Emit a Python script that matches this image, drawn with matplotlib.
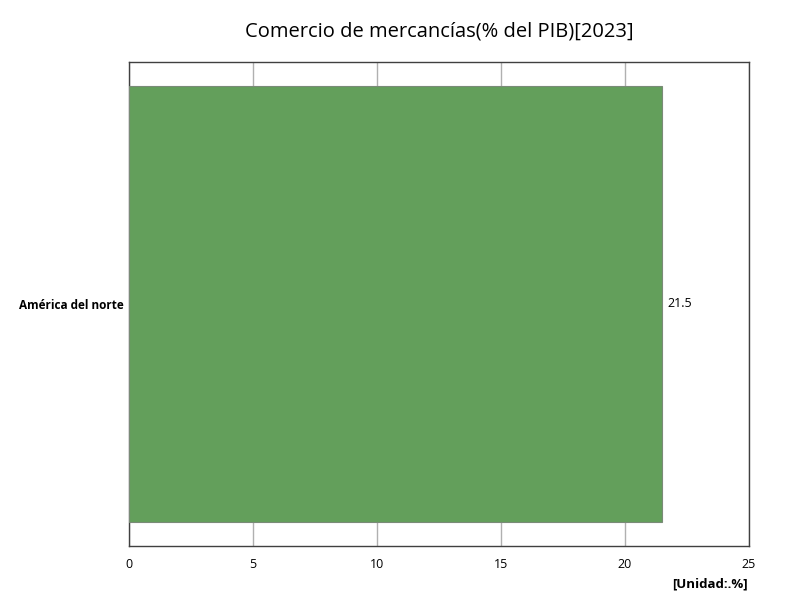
import matplotlib.pyplot as plt

categories = ['América del norte']
values = [21.5]
x_ticks = [0, 5, 10, 15, 20, 25]

plt.rcParams['font.family'] = ['Open Sans', 'DejaVu Sans']

fig = plt.figure(figsize=(8, 6), dpi=100)
ax = fig.add_axes([0.16125, 0.09, 0.775, 0.8067])

ax.barh(categories, values, height=0.9, color='#639f5b', edgecolor='#7a8a78', linewidth=0.8, zorder=3)
ax.set_ylim(-0.5, 0.5)
ax.set_xlim(0, 25)
ax.set_xticks(x_ticks)
ax.set_xticklabels([str(t) for t in x_ticks], fontsize=9)
ax.tick_params(axis='x', length=0, pad=9)
ax.tick_params(axis='y', length=0, pad=4)
for lbl in ax.get_yticklabels():
    lbl.set_fontsize(8.5)
    lbl.set_fontweight('bold')
ax.grid(axis='x', color='#b0b0b0', linewidth=1, zorder=0)
for s in ax.spines.values():
    s.set_color('#404040')
    s.set_linewidth(1)

for i, v in enumerate(values):
    ax.text(v + 0.2, i, f'{v}', va='center', ha='left', fontsize=9)

# title centred over the plot area, not the figure
fig.text(0.54875, 0.948, 'Comercio de mercancías(% del PIB)[2023]', ha='center', va='center', fontsize=14.5)
fig.text(0.935, 0.027, '[Unidad:.%]', ha='right', va='center', fontsize=9.5, fontweight='bold')

fig.savefig('out.png', dpi=100)
